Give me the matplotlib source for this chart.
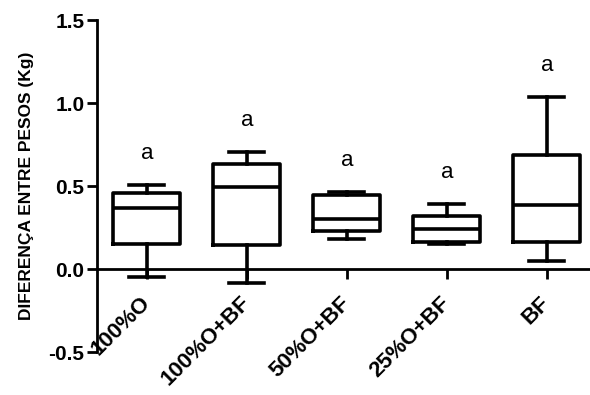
import matplotlib
matplotlib.use("Agg")
from matplotlib import pyplot as plt

# values (Kg)
groups = ["100%O", "100%O+BF", "50%O+BF", "25%O+BF", "BF"]
whisk_lo = [-0.045, -0.08, 0.182, 0.15, 0.052]
q1 = [0.152, 0.146, 0.233, 0.163, 0.166]
median = [0.367, 0.498, 0.303, 0.241, 0.387]
q3 = [0.46, 0.632, 0.448, 0.323, 0.688]
whisk_hi = [0.508, 0.708, 0.467, 0.395, 1.036]
letters = ["a", "a", "a", "a", "a"]

plt.rcParams["font.family"] = ["Liberation Sans", "DejaVu Sans"]

fig = plt.figure(figsize=(5.9, 3.95), dpi=100)
ax = fig.add_axes([0.164, 0.108, 0.836, 0.841])

# spine position first: moving it resets the tick labels
ax.spines["top"].set_visible(False)
ax.spines["right"].set_visible(False)
ax.spines["bottom"].set_position(("data", 0))
ax.spines["left"].set_linewidth(2)
ax.spines["bottom"].set_linewidth(2)

stats = []
for i, g in enumerate(groups):
    stats.append(dict(label=g, whislo=whisk_lo[i], q1=q1[i], med=median[i],
                      q3=q3[i], whishi=whisk_hi[i], fliers=[]))

lw = 2.6
pos = list(range(1, len(groups) + 1))
ax.bxp(stats, positions=pos, widths=0.67, capwidths=0.35, showfliers=False,
       manage_ticks=False,
       boxprops=dict(color="black", linewidth=lw),
       medianprops=dict(color="black", linewidth=lw),
       whiskerprops=dict(color="black", linewidth=lw),
       capprops=dict(color="black", linewidth=lw))

for p, hi, t in zip(pos, whisk_hi, letters):
    ax.text(p, hi + 0.19, t, ha="center", va="center", fontsize=16)

ax.set_xlim(0.5, 5.43)
ax.set_ylim(-0.5, 1.5)
ax.set_yticks([-0.5, 0.0, 0.5, 1.0, 1.5])
ax.set_yticklabels(["-0.5", "0.0", "0.5", "1.0", "1.5"], fontsize=15,
                   fontweight="bold")
ax.set_xticks(pos)
ax.set_xticklabels(groups, rotation=45, ha="right", va="center",
                   rotation_mode="anchor", fontsize=16, fontweight="bold")
ax.tick_params(axis="y", length=7, width=2, pad=2)
ax.tick_params(axis="x", length=7, width=2, pad=15)

ax.set_ylabel("DIFERENÇA ENTRE PESOS (Kg)", fontsize=12.5,
              fontweight="bold", labelpad=10)

fig.savefig("out.png", dpi=100)
